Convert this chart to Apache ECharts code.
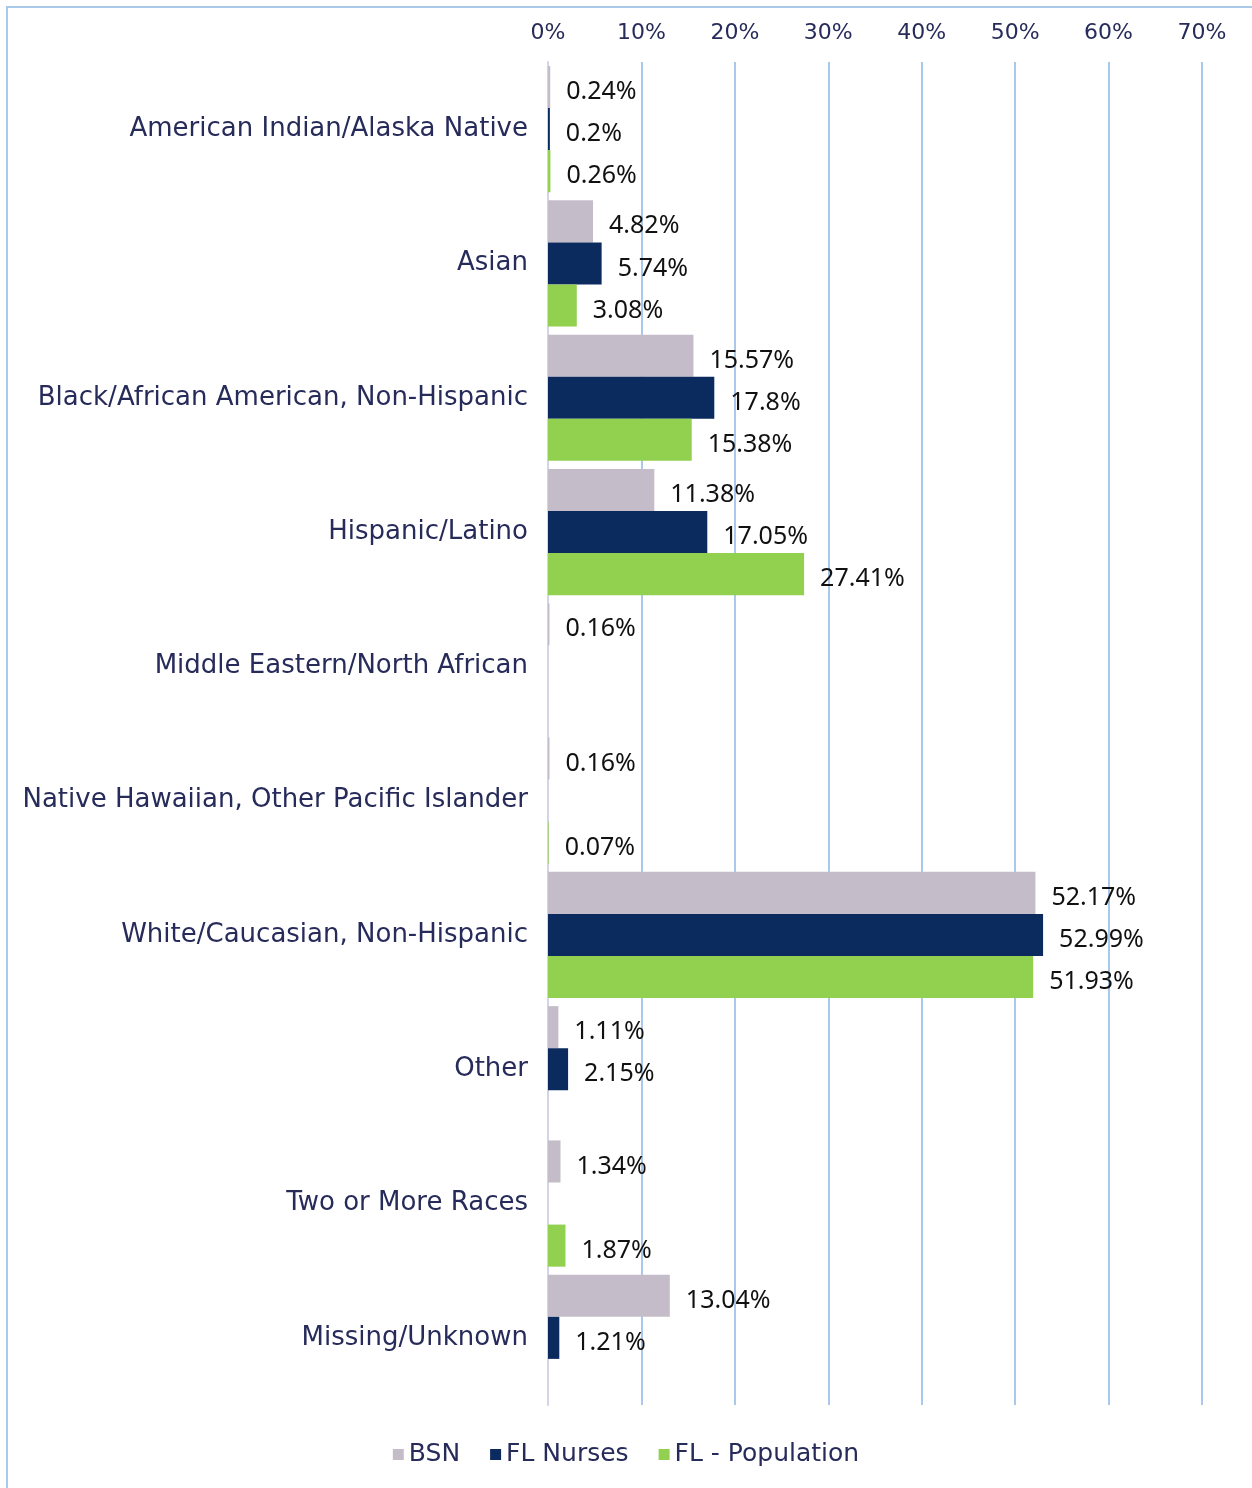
<!DOCTYPE html>
<html>
<head>
<meta charset="utf-8">
<script src="https://cdn.jsdelivr.net/npm/echarts@6/dist/echarts.min.js"></script>
<style>
  html, body { margin: 0; padding: 0; background: #fff; }
  #chart { width: 1252px; height: 1488px; }
  .frame {
    position: absolute; left: 6px; top: 6px; width: 1300px; height: 1600px;
    border-left: 2px solid #a9c9ea; border-top: 2px solid #a9c9ea;
    pointer-events: none;
  }
</style>
</head>
<body>
<div id="chart"></div>
<div class="frame"></div>
<script>
const categories = [
  'American Indian/Alaska Native',
  'Asian',
  'Black/African American, Non-Hispanic',
  'Hispanic/Latino',
  'Middle Eastern/North African',
  'Native Hawaiian, Other Pacific Islander',
  'White/Caucasian, Non-Hispanic',
  'Other',
  'Two or More Races',
  'Missing/Unknown'
];
const bsn = [0.24, 4.82, 15.57, 11.38, 0.16, 0.16, 52.17, 1.11, 1.34, 13.04];
const flNurses = [0.2, 5.74, 17.8, 17.05, null, null, 52.99, 2.15, null, 1.21];
const flPopulation = [0.26, 3.08, 15.38, 27.41, null, 0.07, 51.93, null, 1.87, null];

const textColor = '#272b5a';
const chart = echarts.init(document.getElementById('chart'));

const labelStyle = {
  show: true,
  position: 'right',
  distance: 16,
  offset: [0, 5],
  color: '#111',
  fontFamily: 'Noto Sans',
  fontSize: 25,
  formatter: p => `${p.value}%`
};

const makeSeries = (name, data, color) => ({
  name,
  type: 'bar',
  data,
  barGap: '0%',
  barCategoryGap: '6%',
  itemStyle: { color },
  label: labelStyle,
  emphasis: { disabled: true }
});

chart.setOption({
  animation: false,
  grid: { left: 548, right: 50, top: 62, bottom: 83 },
  legend: {
    bottom: 16,
    left: 'center',
    itemWidth: 11,
    itemHeight: 11,
    itemGap: 30,
    icon: 'rect',
    textStyle: { color: textColor, fontSize: 25, fontFamily: 'DejaVu Sans' },
    data: ['BSN', 'FL Nurses', 'FL - Population']
  },
  xAxis: {
    type: 'value',
    position: 'top',
    min: 0,
    max: 70,
    interval: 10,
    axisLine: { show: false },
    axisTick: { show: false },
    axisLabel: {
      color: textColor,
      fontSize: 22,
      fontFamily: 'DejaVu Sans',
      margin: 18,
      formatter: v => `${v}%`
    },
    splitLine: { lineStyle: { color: '#a9c9ea', width: 2 } }
  },
  yAxis: {
    type: 'category',
    data: categories,
    inverse: true,
    axisTick: { show: false },
    axisLine: { lineStyle: { color: '#d3d3ea', width: 2 } },
    axisLabel: {
      color: textColor,
      fontSize: 26,
      fontFamily: 'DejaVu Sans',
      margin: 20
    }
  },
  series: [
    makeSeries('BSN', bsn, '#c4bdc9'),
    makeSeries('FL Nurses', flNurses, '#0b2a5e'),
    makeSeries('FL - Population', flPopulation, '#92d050')
  ]
});
</script>
</body>
</html>
